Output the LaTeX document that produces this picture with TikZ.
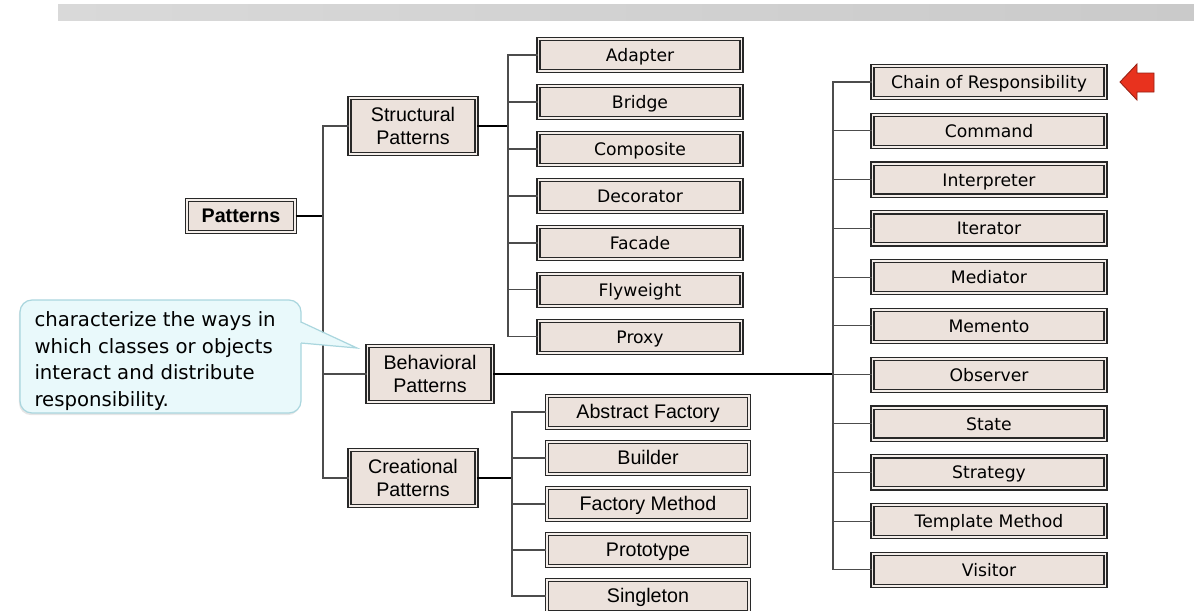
\documentclass[tikz,border=0pt]{standalone}
\usepackage{fontspec}
\setmainfont{Liberation Sans}
\newfontfamily\tahoma{DejaVu Sans}
\usetikzlibrary{positioning, shadows}

\definecolor{boxfill}{RGB}{236,226,220}
\definecolor{boxline}{RGB}{40,40,40}
\definecolor{notefill}{RGB}{233,249,251}
\definecolor{noteline}{RGB}{170,214,222}
\definecolor{barlight}{RGB}{217,217,217}
\definecolor{bardark}{RGB}{202,202,202}
\definecolor{flagred}{RGB}{232,50,30}

\begin{document}
\begin{tikzpicture}[
        x = 0.02cm, y = -0.02cm, % one unit per pixel
        semithick, % line style
        link/.style = {draw = black!70, line width = 0.6pt},
        mainlink/.style = {draw = black, line width = 1pt}
    ]

    \tikzstyle{box}=[
        draw = boxline,
        line width = 0.7pt,
        double = white!40!boxfill,
        double distance = 1.1pt,
        fill = boxfill,
        inner sep = 0pt,
        align = center,
        minimum height = 0.64cm
    ]
    \tikzstyle{group}=[box, minimum height = 1.12cm, minimum width = 2.54cm,
        font = \fontsize{11.2}{13.6}\selectfont]
    \tikzstyle{leaf}=[box, text height = 1.6ex, text depth = 0.2ex,
        font = \tahoma\fontsize{9.8}{12}\selectfont]
    \tikzstyle{cleaf}=[box, minimum width = 4.04cm, text height = 1.6ex, text depth = 0.2ex,
        font = \fontsize{11.2}{13.6}\selectfont]

    \useasboundingbox (0,0) rectangle (1194,610);

    % header bar
    \shade[left color = barlight, right color = bardark] (58,4) rectangle (1194,20);

    % root and groups
    \node[box, minimum width = 2.16cm, text height = 1.6ex, text depth = 0.2ex,
        font = \bfseries\fontsize{11.2}{13.6}\selectfont] (patterns) at (241,216) {Patterns};
    \node[group] (structural) at (413,126) {Structural\\Patterns};
    \node[group, minimum width = 2.5cm] (behavioral) at (430,374) {Behavioral\\Patterns};
    \node[group] (creational) at (413,478) {Creational\\Patterns};

    % structural
    \begin{scope}[node distance = 0.94cm]
        \node[leaf, minimum width = 4.06cm] (adapter) at (640,55) {Adapter};
        \node[leaf, minimum width = 4.06cm] (bridge) [below of=adapter] {Bridge};
        \node[leaf, minimum width = 4.06cm] (composite) [below of=bridge] {Composite};
        \node[leaf, minimum width = 4.06cm] (decorator) [below of=composite] {Decorator};
        \node[leaf, minimum width = 4.06cm] (facade) [below of=decorator] {Facade};
        \node[leaf, minimum width = 4.06cm] (flyweight) [below of=facade] {Flyweight};
        \node[leaf, minimum width = 4.06cm] (proxy) [below of=flyweight] {Proxy};
    \end{scope}

    % behavioral
    \begin{scope}[node distance = 0.976cm]
        \node[leaf, minimum width = 4.66cm] (chain) at (989,82) {Chain of Responsibility};
        \node[leaf, minimum width = 4.66cm] (command) [below of=chain] {Command};
        \node[leaf, minimum width = 4.66cm] (interpreter) [below of=command] {Interpreter};
        \node[leaf, minimum width = 4.66cm] (iterator) [below of=interpreter] {Iterator};
        \node[leaf, minimum width = 4.66cm] (mediator) [below of=iterator] {Mediator};
        \node[leaf, minimum width = 4.66cm] (memento) [below of=mediator] {Memento};
        \node[leaf, minimum width = 4.66cm] (observer) [below of=memento] {Observer};
        \node[leaf, minimum width = 4.66cm] (state) [below of=observer] {State};
        \node[leaf, minimum width = 4.66cm] (strategy) [below of=state] {Strategy};
        \node[leaf, minimum width = 4.66cm] (template) [below of=strategy] {Template Method};
        \node[leaf, minimum width = 4.66cm] (visitor) [below of=template] {Visitor};
    \end{scope}

    % creational
    \begin{scope}[node distance = 0.92cm]
        \node[cleaf] (abstract) at (648,412) {Abstract Factory};
        \node[cleaf] (builder) [below of=abstract] {Builder};
        \node[cleaf] (factory) [below of=builder] {Factory Method};
        \node[cleaf] (prototype) [below of=factory] {Prototype};
        \node[cleaf] (singleton) [below of=prototype] {Singleton};
    \end{scope}

    % connectors
    \coordinate (mbus) at (323,216);
    \coordinate (sbus) at (508,126);
    \coordinate (bbus) at (833,374);
    \coordinate (cbus) at (512,478);

    \draw[mainlink] (patterns.east) -- (mbus);
    \draw[link] (structural.west) -| (mbus) |- (creational.west);
    \draw[link] (behavioral.west) -- (mbus |- behavioral.west);

    \draw[mainlink] (structural.east) -- (sbus);
    \draw[link] (adapter.west) -| (sbus) |- (proxy.west);
    \foreach \n in {bridge, composite, decorator, facade, flyweight}
        \draw[link] (\n.west) -- (sbus |- \n.west);

    \draw[mainlink] (behavioral.east) -- (bbus);
    \draw[link] (chain.west) -| (bbus) |- (visitor.west);
    \foreach \n in {command, interpreter, iterator, mediator, memento, observer, state, strategy, template}
        \draw[link] (\n.west) -- (bbus |- \n.west);

    \draw[mainlink] (creational.east) -- (cbus);
    \draw[link] (abstract.west) -| (cbus) |- (singleton.west);
    \foreach \n in {builder, factory, prototype}
        \draw[link] (\n.west) -- (cbus |- \n.west);

    % marker
    \draw[flagred!65!black, fill = flagred, line width = 0.5pt, line join = miter]
        (1120,82) -- (1137,64) -- (1137,73) -- (1154,73) -- (1154,92) -- (1137,92) -- (1137,100) -- cycle;

    % callout
    \draw[noteline, fill = notefill, line width = 0.7pt, rounded corners = 0.24cm,
        drop shadow = {opacity = 0.2, shadow xshift = -0.6pt, shadow yshift = -1.2pt}]
        (20,300) rectangle (301,413);
    \fill[notefill] (299,322) -- (357,348) -- (299,343) -- cycle;
    \draw[noteline, line width = 0.7pt] (301,322) -- (357,348) -- (301,343);
    \node[anchor = north west, inner sep = 0pt, align = left,
        font = \tahoma\fontsize{11.2}{15.1}\selectfont] (note) at (34,311)
        {characterize the ways in\\which classes or objects\\interact and distribute\\responsibility.};

\end{tikzpicture}
\end{document}
